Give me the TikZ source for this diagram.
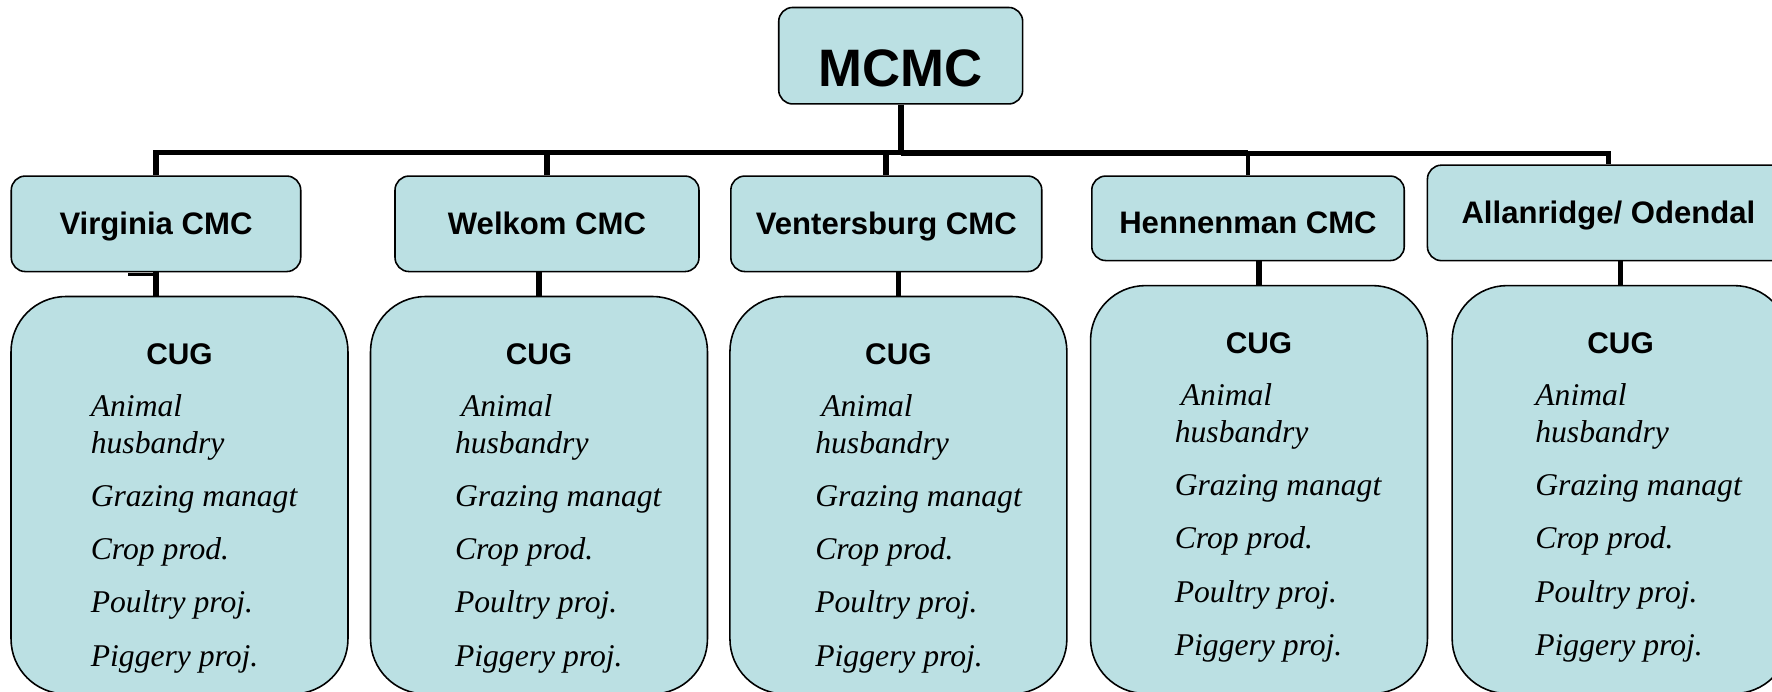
\documentclass[tikz,border=0pt]{standalone}
\usepackage{fontspec}
\setmainfont{Liberation Serif}
\setsansfont{Liberation Sans}
\definecolor{cugblue}{HTML}{BBE0E3}

\begin{document}
\begin{tikzpicture}[x = 0.02cm, y = -0.02cm,
    box/.style = {draw = black, fill = cugblue, line width = 0.9pt, inner sep = 0pt},
    head/.style = {box, rounded corners = 0.28cm, text height = 0.44cm, text depth = 0pt,
      font = \sffamily\bfseries\fontsize{17.7}{20}\selectfont},
    cug/.style = {box, rounded corners = 1.1cm, minimum width = 6.74cm},
    title/.style = {anchor = base, inner sep = 0pt, font = \sffamily\bfseries\fontsize{17}{20}\selectfont},
    item/.style = {anchor = base west, inner sep = 0pt, font = \itshape\fontsize{18}{20}\selectfont},
    fat/.style = {line width = 3.2pt},
    thin/.style = {line width = 2.5pt}
  ]

  \useasboundingbox (0, 0) rectangle (1772, 691);

  % top of the tree
  \node[box, rounded corners = 0.28cm, minimum width = 4.88cm, minimum height = 1.93cm,
        text height = 1.25cm, text depth = 0pt,
        font = \sffamily\bfseries\fontsize{30}{36}\selectfont] (mcmc) at (900.7, 55.7) {MCMC};

  % the five CMCs
  \node[head, minimum width = 5.79cm, minimum height = 1.91cm] (virginia) at (156, 223.8) {Virginia CMC};
  \node[head, minimum width = 6.08cm, minimum height = 1.91cm] (welkom) at (547, 223.8) {Welkom CMC};
  \node[head, minimum width = 6.22cm, minimum height = 1.91cm] (ventersburg) at (886.3, 223.8) {Ventersburg CMC};
  \node[head, minimum width = 6.25cm, minimum height = 1.69cm, text height = 0.62cm] (hennenman) at (1248, 218.3) {Hennenman CMC};
  \node[head, minimum width = 7.24cm, minimum height = 1.91cm] (allanridge) at (1608.4, 212.9) {Allanridge/ Odendal};

  % the CUG boxes
  \foreach \name/\cx/\ty/\h/\lx/\dx in {cuga/179.5/295.7/7.95/90.5/0, cugb/539/295.7/7.95/454.7/6,
      cugc/898.4/295.7/7.95/815/6, cugd/1259/284.8/8.16/1174.5/6, cuge/1620.6/284.8/8.16/1535/0} {
    \node[cug, anchor = north, minimum height = \h cm] (\name) at (\cx, \ty) {};
    \node[title] (\name-title) at (\cx, {\ty + 68.3}) {CUG};
    \foreach \txt/\dy [count = \i] in {Animal/121, husbandry/157.6, Grazing managt/211,
        Crop prod./264.1, Poultry proj./317.2, Piggery proj./370.3}
      \node[item] (\name-\i) at ({\lx + (\i == 1) * \dx}, {\ty + \dy}) {\txt};
  }

  % connectors
  \coordinate (bus) at (900.7, 152.5);
  \coordinate (busr) at (900.7, 153.5);
  \draw[fat] (mcmc.south) -- (bus);
  \draw[fat] (virginia.north) -- (virginia.north |- bus) -- (hennenman.north |- bus);
  \draw[fat] (welkom.north) -- (welkom.north |- bus);
  \draw[fat] (ventersburg.north) -- (ventersburg.north |- bus);
  \draw[thin] (busr) -- (allanridge.north |- busr) -- (allanridge.north);
  \draw[thin] (hennenman.north) -- (hennenman.north |- busr);

  \draw[fat] (virginia.south) -- (virginia.south |- cuga.north);
  \draw[line width = 1.5pt] ([shift = {(-28, 2)}]virginia.south) -- ++(28, 0);
  \draw[fat] (cugb.north) -- (cugb.north |- welkom.south);
  \draw[fat] (cugc.north) -- (cugc.north |- ventersburg.south);
  \draw[fat] (cugd.north) -- (cugd.north |- hennenman.south);
  \draw[fat] (cuge.north) -- (cuge.north |- allanridge.south);

\end{tikzpicture}
\end{document}
